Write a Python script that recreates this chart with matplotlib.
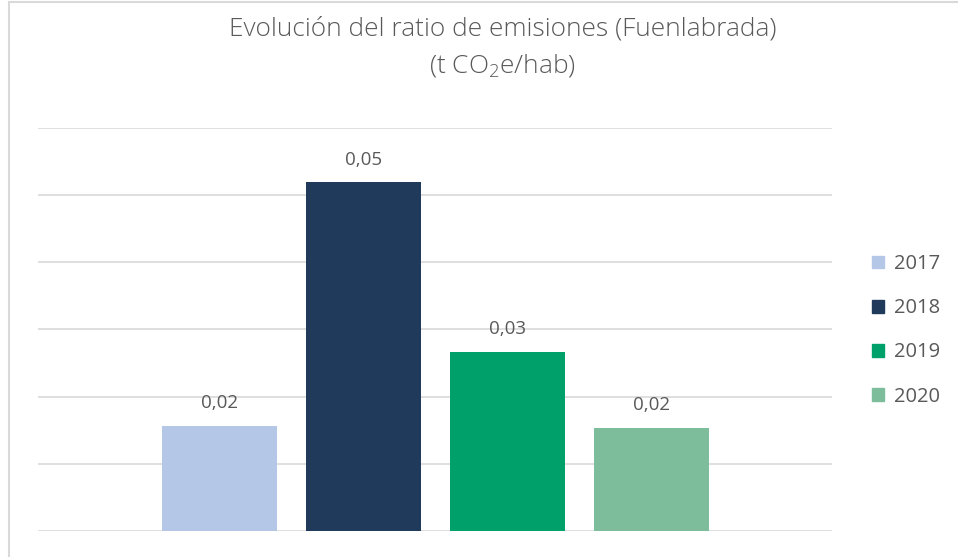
import matplotlib
matplotlib.use("Agg")
import matplotlib.pyplot as plt
from matplotlib.patches import Rectangle

years = ["2017", "2018", "2019", "2020"]
ratio = [0.0157, 0.0519, 0.0266, 0.0154]
colors = ["#b4c7e7", "#1f3a5a", "#00a06b", "#7dbd9c"]
labels = ["0,02", "0,05", "0,03", "0,02"]

plt.rcParams["font.family"] = ["Open Sans", "DejaVu Sans"]
plt.rcParams["mathtext.fontset"] = "custom"
plt.rcParams["mathtext.rm"] = "Open Sans:light"
plt.rcParams["mathtext.it"] = "Open Sans:light"

txt = "#595959"
fig = plt.figure(figsize=(9.58, 5.57), dpi=100)
ax = fig.add_axes([0.0397, 0.0467, 0.8288, 0.7235])

x = list(range(len(years)))
bars = ax.bar(x, ratio, width=0.8, color=colors, label=years, zorder=2)
for xi, v, lab in zip(x, ratio, labels):
    ax.annotate(lab, (xi, v), xytext=(0, 10), textcoords="offset points",
                ha="center", va="bottom", fontsize=13.5, color=txt)

ax.set_xlim(-1.257, 4.253)
ax.set_ylim(0, 0.06)
ax.set_yticks([0, 0.01, 0.02, 0.03, 0.04, 0.05, 0.06])
ax.grid(axis="y", color="#d9d9d9", linewidth=1.2, zorder=0)
ax.tick_params(left=False, bottom=False, labelleft=False, labelbottom=False)
for s in ax.spines.values():
    s.set_visible(False)

fig.text(0.525, 0.948, "Evolución del ratio de emisiones (Fuenlabrada)",
         ha="center", va="center", fontsize=18.9, color=txt, fontweight="light")
fig.text(0.525, 0.882, "(t CO$_2$e/hab)", ha="center", va="center",
         fontsize=18.9, color=txt, fontweight="light")

handles = [Rectangle((0, 0), 1, 1, color=c) for c in colors]
fig.legend(handles, years, loc="center left", bbox_to_anchor=(0.891, 0.407),
           frameon=False, prop={"size": 14.5}, labelcolor=txt,
           handlelength=0.6, handleheight=0.6, handletextpad=0.5,
           labelspacing=1.2)

fig.patches.append(Rectangle((0.009, -0.01), 1.0, 1.006, transform=fig.transFigure,
                             fill=False, edgecolor="#d9d9d9", linewidth=1.5))

fig.savefig("out.png", dpi=100)
